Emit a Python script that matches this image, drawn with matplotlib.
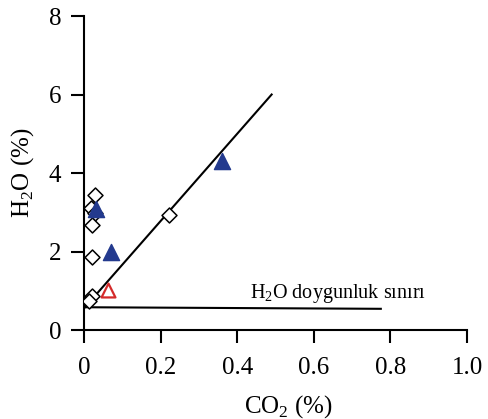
import matplotlib.pyplot as plt

plt.rcParams['font.family'] = ['Liberation Serif', 'DejaVu Serif']
plt.rcParams['mathtext.fontset'] = 'custom'
plt.rcParams['mathtext.rm'] = 'Liberation Serif'

# open diamonds (black outline)
dia_co2 = [0.030, 0.018, 0.028, 0.022, 0.022, 0.022, 0.012, 0.222]
dia_h2o = [3.45, 3.10, 2.98, 2.68, 1.87, 0.86, 0.74, 2.92]

# filled blue triangles
blue_co2 = [0.032, 0.070, 0.360]
blue_h2o = [3.08, 1.98, 4.30]

# open red triangle
red_co2 = [0.062]
red_h2o = [1.03]

# trend line and H2O saturation limit
trend_x = [0.0, 0.49]
trend_y = [0.55, 6.0]
sat_x = [0.0, 0.775]
sat_y = [0.58, 0.54]

xticks = [0, 0.2, 0.4, 0.6, 0.8, 1.0]
xticklabels = ['0', '0.2', '0.4', '0.6', '0.8', '1.0']
yticks = [0, 2, 4, 6, 8]

fig = plt.figure(figsize=(4.88, 4.19), dpi=100)
ax = fig.add_axes([0.172, 0.2124, 0.785, 0.7494])

ax.plot(trend_x, trend_y, color='black', lw=1.5, zorder=2)
ax.plot(sat_x, sat_y, color='black', lw=1.5, zorder=2)

ax.scatter(dia_co2, dia_h2o, marker='D', s=58, facecolor='white',
           edgecolor='black', linewidths=1.1, zorder=3)
ax.scatter(blue_co2, blue_h2o, marker='^', s=135, color='#233a8e',
           edgecolor='#233a8e', zorder=4)
ax.scatter(red_co2, red_h2o, marker='^', s=100, facecolor='white',
           edgecolor='#d42a2a', linewidths=1.6, zorder=4)

ax.text(0.433, 0.82, 'H$_2$O doygunluk sınırı', fontsize=14.5, ha='left', va='baseline')

ax.set_xlim(0, 1.0)
ax.set_ylim(0, 8)
ax.set_xticks(xticks)
ax.set_xticklabels(xticklabels)
ax.set_yticks(yticks)

for side in ['top', 'right']:
    ax.spines[side].set_visible(False)
for side in ['left', 'bottom']:
    ax.spines[side].set_linewidth(1.5)

ax.tick_params(direction='out', length=9.5, width=1.5, labelsize=18, pad=7)
ax.tick_params(axis='x', pad=10)

ax.set_xlabel('CO$_2$ (%)', fontsize=18)
ax.set_ylabel('H$_2$O (%)', fontsize=18)
ax.xaxis.set_label_coords(0.535, -0.20)
ax.yaxis.set_label_coords(-0.125, 0.5)

fig.savefig('out.png', dpi=100)
